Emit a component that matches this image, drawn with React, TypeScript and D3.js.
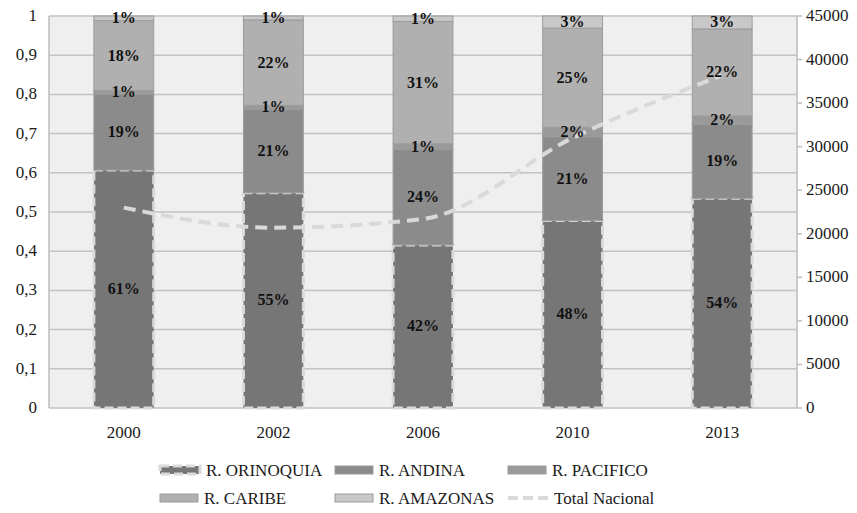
import React from 'react';
import * as d3 from 'd3';

const years = ['2000', '2002', '2006', '2010', '2013'];
const orinoquia = [0.607, 0.549, 0.416, 0.478, 0.535];
const andina = [0.194, 0.213, 0.244, 0.214, 0.189];
const pacifico = [0.009, 0.010, 0.014, 0.024, 0.021];
const caribe = [0.178, 0.218, 0.312, 0.253, 0.222];
const amazonas = [0.012, 0.010, 0.014, 0.031, 0.033];
const totalNacional = [23000, 20700, 21700, 31000, 38200];

const leftTicks = [0, 0.1, 0.2, 0.3, 0.4, 0.5, 0.6, 0.7, 0.8, 0.9, 1];
const rightTicks = [0, 5000, 10000, 15000, 20000, 25000, 30000, 35000, 40000, 45000];

const seriesNames = ['R. ORINOQUIA', 'R. ANDINA', 'R. PACIFICO', 'R. CARIBE', 'R. AMAZONAS'];
const seriesValues = [orinoquia, andina, pacifico, caribe, amazonas];
const colors = ['#767676', '#8b8b8b', '#9a9a9a', '#b0b0b0', '#c8c8c8'];

const W = 857, H = 513;
const m = { left: 49, right: 797, top: 16, bottom: 408 };
const font = '"Liberation Serif", "DejaVu Serif", serif';

export default function App() {
    let x = d3.scaleBand().domain(years).range([m.left, m.right]).padding(0);
    let barW = x.bandwidth() * 0.4;
    let y = d3.scaleLinear().domain([0, 1]).range([m.bottom, m.top]);
    let y2 = d3.scaleLinear().domain([0, 45000]).range([m.bottom, m.top]);

    let table = years.map((yr, i) => {
        let row: any = { year: yr };
        seriesNames.forEach((s, k) => { row[s] = seriesValues[k][i]; });
        return row;
    });
    let stacked = d3.stack().keys(seriesNames)(table);

    let line = d3.line<number>()
        .x((d, i) => x(years[i])! + x.bandwidth() / 2)
        .y(d => y2(d))
        .curve(d3.curveMonotoneX);

    let fmtLeft = (v: number) => d3.format('')(v).replace('.', ',');

    let legend = [
        { name: 'R. ORINOQUIA', kind: 'ori', x: 160, y: 470 },
        { name: 'R. ANDINA', kind: 1, x: 335, y: 470 },
        { name: 'R. PACIFICO', kind: 2, x: 508, y: 470 },
        { name: 'R. CARIBE', kind: 3, x: 160, y: 498 },
        { name: 'R. AMAZONAS', kind: 4, x: 335, y: 498 },
        { name: 'Total Nacional', kind: 'line', x: 508, y: 498 },
    ];

    return (
        <div style={{ position: 'absolute', left: 0, top: 0 }}>
            <svg width={W} height={H} style={{ fontFamily: font, display: 'block' }}>
                <rect x={0} y={0} width={W} height={H} fill="#ffffff" />
                <rect x={m.left} y={m.top} width={m.right - m.left} height={m.bottom - m.top} fill="#efefef" />
                {leftTicks.map(t =>
                    <line key={t} x1={m.left} x2={m.right} y1={y(t)} y2={y(t)} stroke="#c2c2c2" strokeWidth={1.5} />
                )}
                <line x1={m.left} x2={m.left} y1={m.top} y2={m.bottom} stroke="#bdbdbd" strokeWidth={1.5} />
                <line x1={m.right} x2={m.right} y1={m.top} y2={m.bottom} stroke="#bdbdbd" strokeWidth={1.5} />
                {rightTicks.map(t =>
                    <line key={t} x1={m.right} x2={m.right + 5} y1={y2(t)} y2={y2(t)} stroke="#bdbdbd" strokeWidth={1.5} />
                )}

                {stacked.map((layer, k) =>
                    <g key={layer.key}>
                        {layer.map((d, i) => {
                            let bx = x(years[i])! + (x.bandwidth() - barW) / 2;
                            let top = y(d[1]), bot = y(d[0]);
                            return k === 0 ?
                                <g key={i}>
                                    <rect x={bx} y={top} width={barW} height={bot - top} fill={colors[k]} />
                                    <rect x={bx} y={top} width={barW} height={bot - top} fill="none"
                                          stroke="#dadada" strokeWidth={3} strokeDasharray="9,4" />
                                </g> :
                                <rect key={i} x={bx} y={top} width={barW} height={bot - top}
                                      fill={colors[k]} stroke="#9c9c9c" strokeWidth={1} />;
                        })}
                    </g>
                )}

                <path d={line(totalNacional)!} fill="none" stroke="#d9d9d9" strokeWidth={4}
                      strokeDasharray="12,7" />

                {stacked.map(layer =>
                    layer.map((d, i) =>
                        <text key={layer.key + i} x={x(years[i])! + x.bandwidth() / 2}
                              y={(y(d[0]) + y(d[1])) / 2 + 5} textAnchor="middle"
                              fontSize={16} fontWeight="bold" fill="#111">
                            {Math.round((d[1] - d[0]) * 100) + '%'}
                        </text>
                    )
                )}

                {leftTicks.map(t =>
                    <text key={t} x={37} y={y(t) + 5} textAnchor="end" fontSize={17} fill="#1a1a1a">{fmtLeft(t)}</text>
                )}
                {rightTicks.map(t =>
                    <text key={t} x={806} y={y2(t) + 5} textAnchor="start" fontSize={17} fill="#1a1a1a">{t}</text>
                )}
                {years.map(yr =>
                    <text key={yr} x={x(yr)! + x.bandwidth() / 2} y={438} textAnchor="middle" fontSize={17} fill="#1a1a1a">{yr}</text>
                )}

                {legend.map(l =>
                    <g key={l.name}>
                        {l.kind === 'line' ?
                            <line x1={l.x} x2={l.x + 40} y1={l.y} y2={l.y} stroke="#d9d9d9" strokeWidth={4} strokeDasharray="10,5" /> :
                            l.kind === 'ori' ?
                                <rect x={l.x} y={l.y - 4} width={40} height={8} fill={colors[0]}
                                      stroke="#dadada" strokeWidth={3} strokeDasharray="9,4" /> :
                                <rect x={l.x} y={l.y - 4} width={38} height={8} fill={colors[l.kind as number]} stroke="#9c9c9c" strokeWidth={1} />
                        }
                        <text x={l.x + (l.kind === 'ori' || l.kind === 'line' ? 46 : 44)} y={l.y + 6} fontSize={17} fill="#1a1a1a">{l.name}</text>
                    </g>
                )}
            </svg>
        </div>
    );
}
